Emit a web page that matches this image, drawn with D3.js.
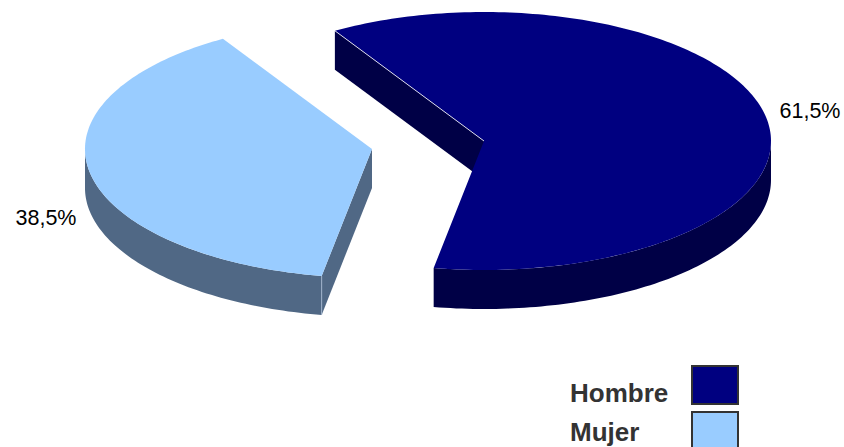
<!DOCTYPE html>
<html>
<head>
<meta charset="utf-8">
<script src="https://cdn.jsdelivr.net/npm/d3@7"></script>
<style>
  html, body { margin: 0; padding: 0; background: #fff; overflow: hidden; }
  text { font-family: "Liberation Sans", Arial, sans-serif; }
</style>
</head>
<body>
<svg id="chart"></svg>
<script>
const categories = ['Hombre', 'Mujer'];
const values = [61.5, 38.5];
const valueLabels = ['61,5%', '38,5%'];

const topColors = ['#000080', '#99ccff'];
const wallColors = ['#000046', '#506885'];
const edgeColors = ['#ffffff', '#a9bdd6'];

const width = 844;
const height = 447;
const rx = 287;
const ry = 129;
const depth = 39;
// each slice is pulled away from the pie, so each has its own apex
const centers = [{ x: 484, y: 141 }, { x: 372, y: 149 }];
const labelPos = [{ x: 810, y: 118 }, { x: 46, y: 225 }];

const svg = d3.select('#chart').attr('width', width).attr('height', height);

const pie = d3.pie().sort(null).value((d) => d)
  .startAngle(-31.3 * Math.PI / 180)
  .endAngle((360 - 31.3) * Math.PI / 180);
const slices = pie(values);

const xUnit = d3.scaleLinear().domain([-1, 1]).range([-rx, rx]);
const yUnit = d3.scaleLinear().domain([-1, 1]).range([-ry, ry]);
const line = d3.line();

function pt(c, a, dy = 0) {
  return [c.x + xUnit(Math.sin(a)), c.y + yUnit(-Math.cos(a)) + dy];
}
function arcPoints(c, a0, a1, dy = 0) {
  const n = Math.max(2, Math.ceil((a1 - a0) / 0.02));
  return d3.range(n + 1).map((i) => pt(c, a0 + (a1 - a0) * i / n, dy));
}

slices.forEach((s, i) => {
  const c = centers[i];
  const g = svg.append('g').attr('class', 'slice');
  const apex = [c.x, c.y];
  const apexLow = [c.x, c.y + depth];

  // the cut face at the start angle is the only one facing us on both slices
  g.append('path')
    .attr('d', line([apex, pt(c, s.startAngle), pt(c, s.startAngle, depth), apexLow]) + 'Z')
    .attr('fill', wallColors[i]);

  // rounded outer wall, only the front half of the ellipse shows
  const front0 = Math.max(s.startAngle, Math.PI / 2);
  const front1 = Math.min(s.endAngle, Math.PI * 1.5);
  if (front1 > front0) {
    const pts = arcPoints(c, front0, front1).concat(arcPoints(c, front0, front1, depth).reverse());
    g.append('path').attr('d', line(pts) + 'Z').attr('fill', wallColors[i]);
  }

  // top face
  const face = [apex].concat(arcPoints(c, s.startAngle, s.endAngle));
  g.append('path').attr('d', line(face) + 'Z').attr('fill', topColors[i]);

  // thin highlight on the visible cut edge
  const lit = i === 0 ? [pt(c, s.startAngle), apex] : [pt(c, s.startAngle), pt(c, s.startAngle, depth)];
  g.append('path').attr('d', line(lit)).attr('fill', 'none')
    .attr('stroke', edgeColors[i]).attr('stroke-width', 0.8);

  g.append('text')
    .attr('x', labelPos[i].x).attr('y', labelPos[i].y)
    .attr('text-anchor', 'middle')
    .attr('font-size', 21.5)
    .attr('fill', '#000')
    .text(valueLabels[i]);
});

// legend
const legendY = d3.scaleBand().domain(categories).range([365, 451]).paddingInner(6 / 46);
const legend = svg.append('g').attr('class', 'legend');
categories.forEach((name, i) => {
  legend.append('rect')
    .attr('x', 692).attr('y', legendY(name) + 1)
    .attr('width', 46).attr('height', legendY.bandwidth() - 2)
    .attr('fill', topColors[i])
    .attr('stroke', '#333').attr('stroke-width', 2);
  legend.append('text')
    .attr('x', 570).attr('y', [402, 441][i])
    .attr('font-size', 26).attr('font-weight', 'bold')
    .attr('fill', '#333')
    .text(name);
});
</script>
</body>
</html>
